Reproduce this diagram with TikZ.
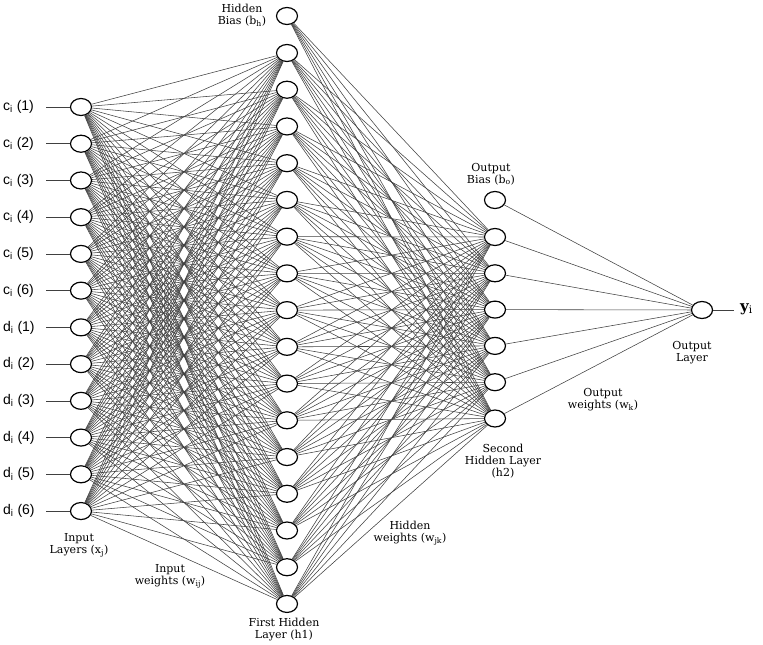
\documentclass[tikz,border=0pt]{standalone}
\usepackage{fontspec}
\setmainfont{DejaVu Serif}
\setsansfont{Liberation Sans}
\usetikzlibrary{positioning,shapes.geometric}

\begin{document}
\begin{tikzpicture}[x=1pt, y=-1pt,
  neuron/.style={ellipse, draw=black, line width=1.2pt, fill=white,
                 minimum width=21pt, minimum height=17pt, inner sep=0pt},
  lbl/.style={font=\fontsize{11}{12}\selectfont, align=center, inner sep=0pt},
  inlbl/.style={font=\sffamily\fontsize{14}{14}\selectfont, anchor=west, inner sep=0pt},
  wire/.style={draw=black!75, line width=0.55pt}]
  \useasboundingbox (0,0) rectangle (763,645);

  % input layer
  \foreach \i in {1,...,12}
    \node[neuron] (in\i) at (81, {107+(\i-1)*36.73}) {};
  \foreach \i in {1,...,6} {
    \coordinate (cs\i) at (46, {107+(\i-1)*36.73});
    \node[inlbl] (cl\i) at (3, {107+(\i-1)*36.73}) {c\textsubscript{i} (\i)};
    \draw[wire] (cs\i) -- (in\i);
  }
  \foreach \i [evaluate=\i as \k using int(\i+6)] in {1,...,6} {
    \coordinate (ds\i) at (46, {107+(\k-1)*36.73});
    \node[inlbl] (dl\i) at (3, {107+(\k-1)*36.73}) {d\textsubscript{i} (\i)};
    \draw[wire] (ds\i) -- (in\k);
  }

  % first hidden layer
  \node[neuron] (hb) at (287, 16) {};
  \foreach \j in {1,...,16}
    \node[neuron] (h\j) at (287, {53+(\j-1)*36.73}) {};

  % second hidden layer
  \node[neuron] (sb) at (495, 200) {};
  \foreach \k in {1,...,6}
    \node[neuron] (s\k) at (495, {237+(\k-1)*36.3}) {};

  % output
  \node[neuron] (out) at (702, 310) {};
  \coordinate (yend) at (734, 310);
  \draw[wire] (out) -- (yend);
  \node[anchor=west, inner sep=0pt, font=\fontsize{15}{16}\selectfont\bfseries] (ylbl) at (740, 309) {y\textsubscript{\normalfont i}};

  % weights
  \foreach \i in {1,...,12}
    \foreach \j in {1,...,16}
      \draw[wire] (in\i) -- (h\j);
  \foreach \j in {b,1,2,3,4,5,6,7,8,9,10,11,12,13,14,15,16}
    \foreach \k in {1,...,6}
      \draw[wire] (h\j) -- (s\k);
  \foreach \k in {b,1,2,3,4,5,6}
    \draw[wire] (s\k) -- (out);

  % labels
  \node[lbl] (hbl) at (242, 15) {Hidden\\Bias (b\textsubscript{h})};
  \node[lbl] (inl) at (79, 545) {Input\\Layers (x\textsubscript{j})};
  \node[lbl] (iwl) at (170, 576) {Input\\weights (w\textsubscript{ij})};
  \node[lbl] (h1l) at (284, 630) {First Hidden\\Layer (h1)};
  \node[lbl] (hwl) at (410, 533) {Hidden\\weights (w\textsubscript{jk})};
  \node[lbl] (obl) at (491, 174) {Output\\Bias (b\textsubscript{o})};
  \node[lbl] (h2l) at (503, 461) {Second\\Hidden Layer\\(h2)};
  \node[lbl] (owl) at (603, 400) {Output\\weights (w\textsubscript{k})};
  \node[lbl] (oll) at (692, 353) {Output\\Layer};
\end{tikzpicture}
\end{document}
